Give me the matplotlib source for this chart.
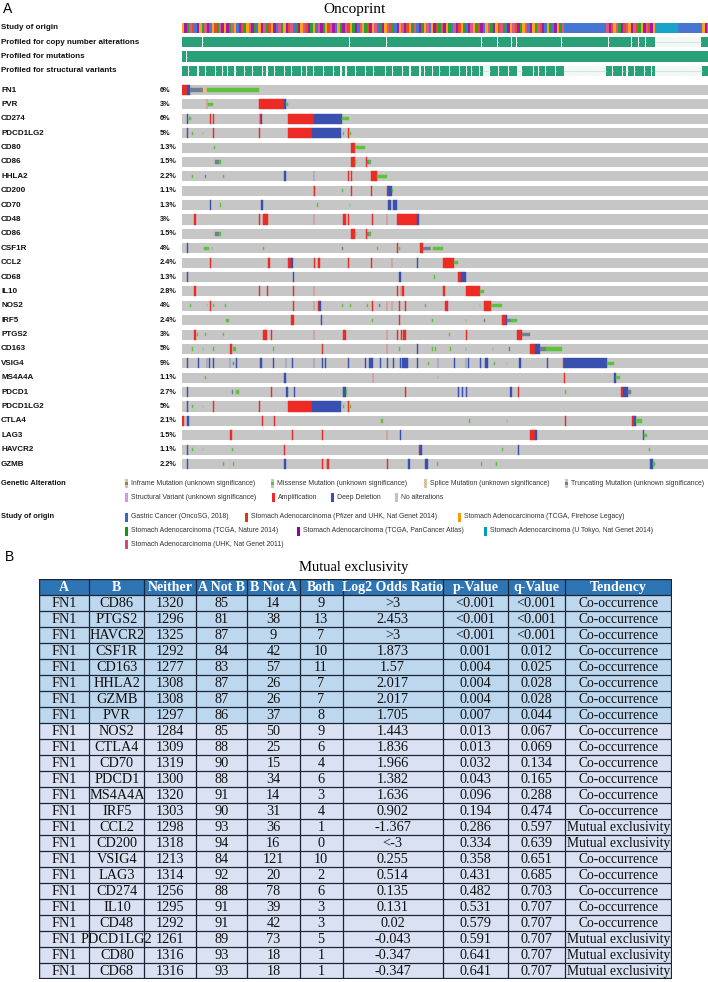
import matplotlib
matplotlib.use("Agg")
import matplotlib.pyplot as plt
from matplotlib.patches import Rectangle
from matplotlib.transforms import blended_transform_factory

# ====================== DATA ======================
N_COLS = 640  # sample columns visible in the oncoprint view

genes = ["FN1", "PVR", "CD274", "PDCD1LG2", "CD80", "CD86", "HHLA2", "CD200", "CD70",
         "CD48", "CD86", "CSF1R", "CCL2", "CD68", "IL10", "NOS2", "IRF5", "PTGS2",
         "CD163", "VSIG4", "MS4A4A", "PDCD1", "PDCD1LG2", "CTLA4", "LAG3", "HAVCR2", "GZMB"]
pcts = ["6%", "3%", "6%", "5%", "1.3%", "1.5%", "2.2%", "1.1%", "1.3%", "3%", "1.5%", "4%",
        "2.4%", "1.3%", "2.8%", "4%", "2.4%", "3%", "5%", "9%", "1.1%", "2.7%", "5%", "2.1%",
        "1.5%", "1.1%", "2.2%"]

# alteration events per gene: (type, first sample column, number of samples)
# A amplification, D deep deletion, M missense, T truncating, S splice, I inframe, V structural
ev_FN1 = [("A", 0, 6), ("D", 6, 4), ("T", 10, 15), ("S", 25, 5), ("M", 30, 64)]
ev_PVR = [("A", 30, 1), ("M", 32, 6), ("A", 94, 30), ("D", 124, 2), ("M", 126, 3)]
ev_CD274 = [("D", 6, 1), ("M", 8, 3), ("A", 34, 1), ("A", 38, 1), ("V", 94, 1), ("A", 95, 1),
            ("D", 96, 1), ("A", 129, 31), ("D", 160, 35), ("M", 195, 8)]
ev_PDCD1LG2 = [("D", 6, 1), ("M", 12, 1), ("M", 25, 1), ("A", 38, 1), ("A", 94, 1), ("A", 129, 29),
               ("D", 158, 36), ("M", 196, 1), ("A", 202, 1), ("M", 204, 2)]
ev_CD80 = [("M", 39, 1), ("A", 206, 4), ("M", 210, 13)]
ev_CD86 = [("T", 40, 5), ("M", 45, 3), ("A", 206, 4), ("M", 211, 1), ("A", 224, 1), ("T", 225, 3),
           ("M", 228, 2)]
ev_HHLA2 = [("M", 12, 1), ("T", 28, 1), ("M", 50, 1), ("D", 124, 2), ("D", 160, 1), ("A", 202, 1),
            ("A", 206, 1), ("A", 230, 7), ("M", 237, 12)]
ev_CD200 = [("D", 160, 1), ("A", 161, 1), ("M", 195, 1), ("A", 206, 1), ("A", 230, 1), ("A", 249, 2),
            ("D", 251, 5), ("M", 256, 1)]
ev_CD70 = [("D", 34, 1), ("M", 46, 1), ("D", 96, 3), ("M", 164, 1), ("M", 204, 1), ("D", 251, 3),
           ("D", 257, 4)]
ev_CD48 = [("A", 14, 3), ("A", 94, 1), ("A", 99, 6), ("A", 160, 1), ("A", 196, 3), ("A", 202, 1),
           ("A", 231, 1), ("A", 249, 1), ("A", 262, 24), ("D", 286, 2)]
ev_CSF1R = [("D", 6, 1), ("M", 27, 6), ("T", 36, 1), ("M", 99, 1), ("T", 195, 1), ("M", 237, 1),
            ("S", 249, 1), ("A", 262, 1), ("M", 264, 1), ("A", 289, 4), ("T", 293, 10), ("S", 303, 1),
            ("M", 305, 12)]
ev_CCL2 = [("A", 34, 1), ("A", 105, 2), ("A", 129, 4), ("D", 133, 2), ("A", 161, 1), ("A", 165, 3),
           ("A", 202, 1), ("A", 230, 1), ("A", 255, 1), ("D", 286, 1), ("A", 318, 13), ("M", 331, 5)]
ev_CD68 = [("D", 6, 1), ("D", 135, 1), ("D", 264, 3), ("M", 307, 1), ("A", 336, 4), ("D", 340, 5)]
ev_IL10 = [("A", 14, 3), ("A", 94, 1), ("A", 103, 2), ("A", 135, 1), ("A", 160, 1), ("A", 261, 2),
           ("A", 266, 1), ("A", 268, 2), ("S", 294, 1), ("A", 318, 2), ("A", 345, 17), ("M", 362, 5)]
ev_NOS2 = [("M", 10, 1), ("M", 30, 1), ("A", 34, 1), ("M", 38, 1), ("M", 52, 1), ("A", 135, 1),
           ("A", 160, 1), ("A", 166, 1), ("D", 167, 2), ("M", 195, 1), ("M", 205, 1), ("M", 225, 1),
           ("A", 231, 1), ("T", 240, 1), ("A", 249, 1), ("A", 255, 1), ("A", 264, 1), ("A", 271, 1),
           ("M", 296, 1), ("A", 320, 4), ("M", 362, 1), ("A", 367, 9), ("M", 376, 13)]
ev_IRF5 = [("M", 54, 3), ("A", 133, 3), ("D", 169, 1), ("M", 231, 1), ("A", 264, 1), ("M", 304, 1),
           ("M", 345, 1), ("T", 368, 1), ("A", 389, 5), ("D", 394, 2), ("T", 396, 4), ("M", 400, 8)]
ev_PTGS2 = [("A", 14, 3), ("M", 18, 1), ("M", 28, 1), ("M", 50, 1), ("S", 58, 1), ("A", 99, 5),
            ("A", 108, 1), ("A", 160, 1), ("A", 196, 3), ("A", 249, 1), ("A", 261, 2), ("A", 266, 2),
            ("A", 269, 4), ("M", 325, 1), ("A", 345, 2), ("A", 408, 6), ("T", 414, 10)]
ev_CD163 = [("M", 12, 1), ("M", 25, 1), ("M", 38, 1), ("A", 58, 3), ("M", 62, 4), ("M", 111, 1),
            ("A", 170, 1), ("M", 171, 1), ("A", 249, 1), ("M", 264, 1), ("D", 286, 1), ("M", 304, 1),
            ("M", 308, 1), ("M", 326, 1), ("T", 345, 1), ("M", 378, 1), ("T", 398, 1), ("A", 424, 6),
            ("D", 430, 6), ("T", 436, 7), ("M", 443, 19)]
ev_VSIG4 = [("D", 6, 1), ("D", 20, 1), ("D", 30, 1), ("D", 33, 1), ("D", 38, 1), ("D", 58, 1),
            ("T", 62, 1), ("D", 66, 1), ("D", 95, 2), ("D", 111, 1), ("D", 126, 1), ("D", 134, 1),
            ("D", 160, 1), ("D", 170, 1), ("D", 174, 1), ("S", 197, 1), ("D", 202, 1), ("D", 223, 1),
            ("D", 228, 5), ("D", 241, 1), ("D", 250, 1), ("D", 257, 1), ("D", 265, 1), ("D", 268, 7),
            ("D", 286, 1), ("M", 299, 1), ("D", 311, 1), ("D", 331, 1), ("D", 345, 1), ("D", 348, 1),
            ("D", 363, 1), ("D", 369, 3), ("M", 380, 1), ("M", 395, 1), ("D", 410, 3), ("D", 444, 1),
            ("A", 463, 2), ("D", 465, 52), ("M", 517, 9)]
ev_MS4A4A = [("M", 28, 1), ("D", 124, 2), ("A", 232, 1), ("M", 311, 1), ("A", 465, 1), ("D", 526, 2),
             ("M", 528, 5)]
ev_PDCD1 = [("D", 6, 1), ("T", 61, 1), ("M", 66, 3), ("A", 108, 2), ("D", 127, 2), ("D", 136, 1),
            ("D", 196, 3), ("M", 200, 1), ("A", 271, 1), ("D", 336, 1), ("D", 341, 1), ("D", 345, 2),
            ("D", 399, 3), ("A", 409, 1), ("M", 466, 1), ("A", 534, 2), ("D", 536, 7), ("T", 543, 3)]
ev_CTLA4 = [("A", 0, 3), ("D", 6, 3), ("A", 97, 2), ("A", 112, 1), ("M", 242, 2), ("M", 349, 1),
            ("M", 395, 1), ("A", 466, 1), ("A", 547, 3), ("D", 550, 2), ("M", 552, 8)]
ev_LAG3 = [("A", 59, 2), ("A", 134, 1), ("A", 170, 1), ("A", 249, 1), ("D", 265, 1), ("A", 424, 6),
           ("D", 430, 2), ("D", 561, 1), ("M", 562, 4)]
ev_HAVCR2 = [("D", 6, 1), ("M", 12, 1), ("M", 25, 1), ("M", 61, 1), ("A", 124, 1), ("A", 288, 2),
             ("D", 290, 2), ("M", 389, 1), ("D", 409, 1), ("M", 568, 1)]
ev_GZMB = [("D", 6, 1), ("M", 50, 1), ("M", 62, 1), ("D", 124, 2), ("A", 170, 1), ("A", 176, 3),
           ("A", 250, 1), ("D", 275, 3), ("D", 296, 3), ("M", 310, 1), ("M", 364, 1), ("M", 382, 1),
           ("D", 569, 4), ("M", 573, 3)]

row_events = [ev_FN1, ev_PVR, ev_CD274, ev_PDCD1LG2, ev_CD80, ev_CD86, ev_HHLA2, ev_CD200, ev_CD70,
              ev_CD48, ev_CD86, ev_CSF1R, ev_CCL2, ev_CD68, ev_IL10, ev_NOS2, ev_IRF5, ev_PTGS2,
              ev_CD163, ev_VSIG4, ev_MS4A4A, ev_PDCD1, ev_PDCD1LG2, ev_CTLA4, ev_LAG3, ev_HAVCR2, ev_GZMB]

# study of origin per block of 3 sample columns
# G OncoSG, P Pfizer/UHK, F TCGA Firehose, N TCGA Nature, C TCGA PanCancer, T U Tokyo, U UHK 2011
STUDY_BLOCK = 3
study_mix1 = ("FCNUPGCFNU" "CGFPNUCFCN" "UFGCPNFUCN" "GFCUNPFCGU" "NFCPUGNCFU" "PCNFGUCNFP"
              "UCGFNCUPFN" "CGUFNPCFUG" "NCFUPNGCFU" "CPFNUGCNFU" "GFCPNUCFNG" "UCPFNGCUFN"
              "PCGFUNCFPU" "NGCFUPCNFU" "GCFNUPCGFN" "GCFNU")
study_mix2 = "UCPFUNCPUF" "CUPNFCUPCF"
study_mix3 = "FCU"
study_track = (study_mix1 + "GGGGGGGGGGGGGGGGG" + study_mix2 + "TTTTTTTTT" + "GGGGGGGGGG" + study_mix3)

# samples not profiled for copy number / mutations: (first column, count)
cna_not_profiled = [(24, 1), (70, 1), (92, 1), (203, 2), (221, 1), (248, 1), (311, 1), (364, 1),
                    (383, 1), (390, 1), (400, 1), (406, 1), (440, 1), (461, 1), (518, 1), (524, 1),
                    (546, 1), (555, 1), (563, 1), (575, 57)]
mut_not_profiled = [(5, 1)]
# profiled for structural variants per block of 3 columns (1 profiled, 0 not profiled)
sv_profiled = ("1101110110" "1110110101" "1011101101" "1101011011" "1011011101" "0110111011"
               "1011010111" "0111011011" "1101101110" "1101110101" "1011011101" "1101101011"
               "0100011101" "1101110011" "1101011011" "10111"
               "00000000000000000"
               "11011101011011101101"
               "0000000000000000000"
               "110")

ga_labels = ["Inframe Mutation (unknown significance)", "Missense Mutation (unknown significance)",
             "Splice Mutation (unknown significance)", "Truncating Mutation (unknown significance)",
             "Structural Variant (unknown significance)", "Amplification", "Deep Deletion",
             "No alterations"]
ga_codes = ["I", "M", "S", "T", "V", "A", "D", "N"]
study_labels = ["Gastric Cancer (OncoSG, 2018)",
                "Stomach Adenocarcinoma (Pfizer and UHK, Nat Genet 2014)",
                "Stomach Adenocarcinoma (TCGA, Firehose Legacy)",
                "Stomach Adenocarcinoma (TCGA, Nature 2014)",
                "Stomach Adenocarcinoma (TCGA, PanCancer Atlas)",
                "Stomach Adenocarcinoma (U Tokyo, Nat Genet 2014)",
                "Stomach Adenocarcinoma (UHK, Nat Genet 2011)"]
study_codes = ["G", "P", "F", "N", "C", "T", "U"]

# mutual exclusivity table
tbl_header = ["A", "B", "Neither", "A Not B", "B Not A", "Both", "Log2 Odds Ratio", "p-Value",
              "q-Value", "Tendency"]
tbl_A = ["FN1"] * 24
tbl_B = ["CD86", "PTGS2", "HAVCR2", "CSF1R", "CD163", "HHLA2", "GZMB", "PVR", "NOS2", "CTLA4",
         "CD70", "PDCD1", "MS4A4A", "IRF5", "CCL2", "CD200", "VSIG4", "LAG3", "CD274", "IL10",
         "CD48", "PDCD1LG2", "CD80", "CD68"]
tbl_neither = [1320, 1296, 1325, 1292, 1277, 1308, 1308, 1297, 1284, 1309, 1319, 1300, 1320, 1303,
               1298, 1318, 1213, 1314, 1256, 1295, 1292, 1261, 1316, 1316]
tbl_anotb = [85, 81, 87, 84, 83, 87, 87, 86, 85, 88, 90, 88, 91, 90, 93, 94, 84, 92, 88, 91, 91, 89, 93, 93]
tbl_bnota = [14, 38, 9, 42, 57, 26, 26, 37, 50, 25, 15, 34, 14, 31, 36, 16, 121, 20, 78, 39, 42, 73, 18, 18]
tbl_both = [9, 13, 7, 10, 11, 7, 7, 8, 9, 6, 4, 6, 3, 4, 1, 0, 10, 2, 6, 3, 3, 5, 1, 1]
tbl_log2 = [">3", "2.453", ">3", "1.873", "1.57", "2.017", "2.017", "1.705", "1.443", "1.836",
            "1.966", "1.382", "1.636", "0.902", "-1.367", "<-3", "0.255", "0.514", "0.135",
            "0.131", "0.02", "-0.043", "-0.347", "-0.347"]
tbl_p = ["<0.001", "<0.001", "<0.001", "0.001", "0.004", "0.004", "0.004", "0.007", "0.013", "0.013",
         "0.032", "0.043", "0.096", "0.194", "0.286", "0.334", "0.358", "0.431", "0.482", "0.531",
         "0.579", "0.591", "0.641", "0.641"]
tbl_q = ["<0.001", "<0.001", "<0.001", "0.012", "0.025", "0.028", "0.028", "0.044", "0.067", "0.069",
         "0.134", "0.165", "0.288", "0.474", "0.597", "0.639", "0.651", "0.685", "0.703", "0.707",
         "0.707", "0.707", "0.707", "0.707"]
tbl_tend = ["Co-occurrence"] * 14 + ["Mutual exclusivity", "Mutual exclusivity"] + \
           ["Co-occurrence"] * 5 + ["Mutual exclusivity"] * 3

# ====================== STYLE ======================
W, H = 708, 982
ALT_COL = {"A": "#ee2a24", "D": "#3a50b0", "M": "#5cc23a", "T": "#708090", "S": "#f0b87b",
           "I": "#a68028", "V": "#d09ae0", "N": "#c4c4c4"}
STUDY_COL = {"G": "#3366cc", "P": "#dc3912", "F": "#ff9900", "N": "#109618", "C": "#990099",
             "T": "#0099c6", "U": "#dd4477"}
GRAY = "#c6c6c6"
PROF = "#2aa078"
SANS = "Liberation Sans"
SERIF = "Liberation Serif"

fig = plt.figure(figsize=(W / 100, H / 100), dpi=100)
fig.patch.set_facecolor("white")


def fx(x):
    return x / W


def fy(y):
    return 1 - y / H


# overlay axes in pixel units for titles / legend
lay = fig.add_axes([0, 0, 1, 1])
lay.set_xlim(0, W)
lay.set_ylim(H, 0)
lay.axis("off")

lay.text(3, 9, "A", fontsize=10, family=SANS, va="center", ha="left")
lay.text(354, 9, "Oncoprint", fontsize=11, family=SERIF, va="center", ha="center")

# ---------------- oncoprint ----------------
PITCH = 14.385
TOP0 = 22
ax = fig.add_axes([fx(182), fy(470), fx(708) - fx(182), (470 - TOP0) / H])
ax.set_xlim(0, N_COLS)
ax.set_ylim((470 - TOP0) / PITCH, 0)
ax.axis("off")
RH = 0.70
lab_tr = blended_transform_factory(fig.transFigure, ax.transData)

track_labels = ["Study of origin", "Profiled for copy number alterations",
                "Profiled for mutations", "Profiled for structural variants"]
track_tops = [0.05 + i for i in range(4)]
for lab, t in zip(track_labels, track_tops):
    ax.text(fx(1), t + RH / 2, lab, transform=lab_tr, fontsize=5.8, weight="bold",
            family=SANS, va="center", ha="left", color="#111111")

# study of origin track (runs)
runs = []
for k, c in enumerate(study_track):
    if runs and runs[-1][0] == c:
        runs[-1][2] += STUDY_BLOCK
    else:
        runs.append([c, k * STUDY_BLOCK, STUDY_BLOCK])
for c, s, n in runs:
    ax.broken_barh([(s, n)], (track_tops[0], RH), facecolor=STUDY_COL[c], lw=0, alpha=0.9)


def profiled_track(top, gaps):
    ax.broken_barh([(0, N_COLS)], (top, RH), facecolor=PROF, lw=0)
    for s, n in gaps:
        ax.broken_barh([(s, n)], (top, RH), facecolor="#f2f8f5", lw=0)
        ax.plot([s, s + n], [top + RH / 2, top + RH / 2], color="#c9dcd4", lw=0.5)


profiled_track(track_tops[1], cna_not_profiled)
profiled_track(track_tops[2], mut_not_profiled)
sv_gaps = []
for k, c in enumerate(sv_profiled):
    if c == "0":
        if sv_gaps and sv_gaps[-1][0] + sv_gaps[-1][1] == k * 3:
            sv_gaps[-1][1] += 3
        else:
            sv_gaps.append([k * 3, 3])
# thin unprofiled slivers appear narrower than a block in the reference
sv_draw = [(s + 0.8, n - 1.6) if n == 3 else (s, n) for s, n in sv_gaps]
profiled_track(track_tops[3], sv_draw)

gene_top0 = (85 - TOP0) / PITCH
for j, (g, p, evs) in enumerate(zip(genes, pcts, row_events)):
    top = gene_top0 + j
    ax.broken_barh([(0, N_COLS)], (top, RH), facecolor=GRAY, lw=0)
    for code, s, n in evs:
        if code in ("A", "D", "V"):
            ax.broken_barh([(s, n)], (top, RH), facecolor=ALT_COL[code],
                           edgecolor=ALT_COL[code], lw=0.3)
        else:
            ax.broken_barh([(s, n)], (top + RH / 3, RH / 3), facecolor=ALT_COL[code],
                           edgecolor=ALT_COL[code], lw=0.3)
    ax.text(fx(1), top + RH / 2, g, transform=lab_tr, fontsize=5.8, weight="bold",
            family=SANS, va="center", ha="left", color="#111111")
    ax.text(fx(160), top + RH / 2, p, transform=lab_tr, fontsize=5.3, weight="bold",
            family=SANS, va="center", ha="left", color="#111111")

# ---------------- legends ----------------
lay.text(1, 483, "Genetic Alteration", fontsize=5.4, weight="bold", family=SANS,
         va="center", ha="left", color="#111111")
ga_pos = [(125, 483), (271, 483), (424, 483), (565, 483), (125, 497), (272, 497), (331, 497), (395, 497)]
for lab, code, (x, y) in zip(ga_labels, ga_codes, ga_pos):
    if code in ("A", "D", "V", "N"):
        lay.add_patch(Rectangle((x, y - 4.5), 3, 9, facecolor=ALT_COL[code], lw=0))
    else:
        lay.add_patch(Rectangle((x, y - 4.5), 3, 9, facecolor=GRAY, lw=0))
        lay.add_patch(Rectangle((x, y - 1.5), 3, 3, facecolor=ALT_COL[code], lw=0))
    lay.text(x + 6, y, lab, fontsize=4.95, family=SANS, va="center", ha="left", color="#333333")

lay.text(1, 517, "Study of origin", fontsize=5.4, weight="bold", family=SANS,
         va="center", ha="left", color="#111111")
st_pos = [(125, 517), (245, 517), (458, 517), (125, 531), (297, 531), (484, 531), (125, 544)]
for lab, code, (x, y) in zip(study_labels, study_codes, st_pos):
    lay.add_patch(Rectangle((x, y - 4.5), 3, 9, facecolor=STUDY_COL[code], lw=0))
    lay.text(x + 6, y, lab, fontsize=4.95, family=SANS, va="center", ha="left", color="#333333")

# ---------------- table ----------------
lay.text(5, 557, "B", fontsize=10, family=SANS, va="center", ha="left")
lay.text(354, 567, "Mutual exclusivity", fontsize=10.5, family=SERIF, va="center", ha="center")

col_edges = [38.6, 89.4, 144.3, 196, 247.3, 299.5, 342.6, 442.5, 508.2, 565, 671.6]
TT, RHT = 579, 16
nrows = len(tbl_B) + 1
tab = fig.add_axes([fx(col_edges[0]), fy(TT + nrows * RHT), (col_edges[-1] - col_edges[0]) / W,
                    nrows * RHT / H])
tab.set_xlim(col_edges[0], col_edges[-1])
tab.set_ylim(nrows, 0)
tab.axis("off")

HEAD_C = "#2e75b6"
SIG_C = "#bdd7ee"
NS_C = "#d9e1f2"
LINE_C = "#1c2533"

for c in range(10):
    x0, x1 = col_edges[c], col_edges[c + 1]
    tab.add_patch(Rectangle((x0, 0), x1 - x0, 1, facecolor=HEAD_C, lw=0))
    tab.text((x0 + x1) / 2, 0.52, tbl_header[c], fontsize=10, weight="bold", family=SERIF,
             color="white", ha="center", va="center")

for i in range(len(tbl_B)):
    q = tbl_q[i]
    qv = 0.0 if q.startswith("<") else float(q)
    fc = SIG_C if qv < 0.05 else NS_C
    vals = [tbl_A[i], tbl_B[i], str(tbl_neither[i]), str(tbl_anotb[i]), str(tbl_bnota[i]),
            str(tbl_both[i]), tbl_log2[i], tbl_p[i], tbl_q[i], tbl_tend[i]]
    for c in range(10):
        x0, x1 = col_edges[c], col_edges[c + 1]
        cell = Rectangle((x0, i + 1), x1 - x0, 1, facecolor=fc, lw=0)
        tab.add_patch(cell)
        fs = 9.8 if c == 9 else 10.3
        t = tab.text((x0 + x1) / 2, i + 1.52, vals[c], fontsize=fs, family=SERIF,
                     color="#111111", ha="center", va="center")
        t.set_clip_path(cell)

tab.hlines(range(0, nrows + 1), col_edges[0], col_edges[-1], color=LINE_C, lw=0.9)
tab.vlines(col_edges, 0, nrows, color=LINE_C, lw=0.9)
tab.add_patch(Rectangle((col_edges[0], 0), col_edges[-1] - col_edges[0], nrows, fill=False,
                        edgecolor=LINE_C, lw=1.6))

fig.savefig("out.png", dpi=100)
